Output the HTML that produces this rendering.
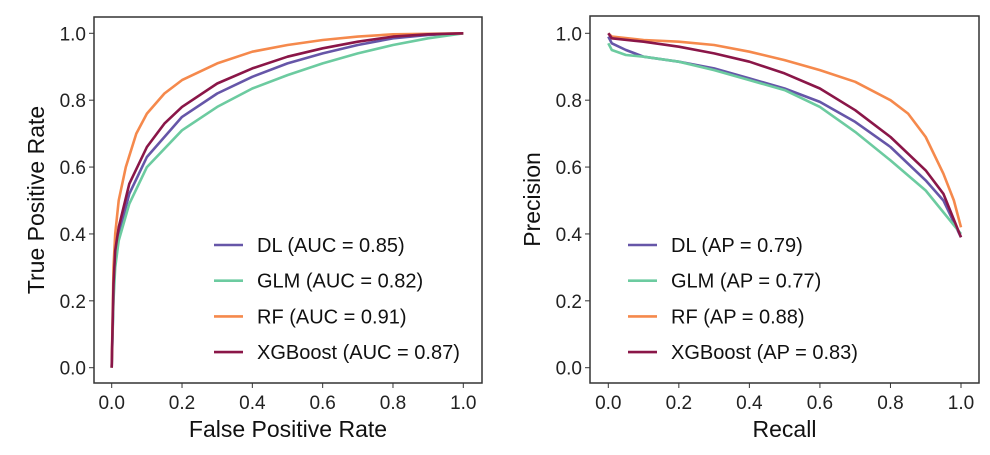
<!DOCTYPE html>
<html><head><meta charset="utf-8"><style>
body{margin:0;background:#fff}
svg{display:block;font-family:"Liberation Sans",sans-serif}
</style></head><body>
<svg id="c" width="990" height="455"></svg>
<script>
const ticks=[0,0.2,0.4,0.6,0.8,1.0];
const tickLabels=["0.0","0.2","0.4","0.6","0.8","1.0"];
const models=["DL","GLM","RF","XGBoost"];
const colors=["#6656a8","#6ccba0","#f5894c","#8a1648"];
const rocLabels=["DL (AUC = 0.85)","GLM (AUC = 0.82)","RF (AUC = 0.91)","XGBoost (AUC = 0.87)"];
const prLabels=["DL (AP = 0.79)","GLM (AP = 0.77)","RF (AP = 0.88)","XGBoost (AP = 0.83)"];
const rocDLx=[0,0.005,0.01,0.02,0.05,0.1,0.2,0.3,0.4,0.5,0.6,0.7,0.8,0.9,1];
const rocDLy=[0,0.22,0.32,0.4,0.52,0.63,0.75,0.82,0.87,0.91,0.94,0.965,0.985,0.995,1];
const rocGLMx=[0,0.005,0.01,0.02,0.05,0.1,0.2,0.3,0.4,0.5,0.6,0.7,0.8,0.9,1];
const rocGLMy=[0,0.2,0.3,0.38,0.49,0.6,0.71,0.78,0.835,0.875,0.91,0.94,0.965,0.985,1];
const rocRFx=[0,0.005,0.01,0.02,0.04,0.07,0.1,0.15,0.2,0.3,0.4,0.5,0.6,0.7,0.8,1];
const rocRFy=[0,0.3,0.4,0.5,0.6,0.7,0.76,0.82,0.86,0.91,0.945,0.965,0.98,0.99,0.997,1];
const rocXGBx=[0,0.005,0.01,0.02,0.05,0.1,0.15,0.2,0.3,0.4,0.5,0.6,0.7,0.8,0.9,1];
const rocXGBy=[0,0.25,0.35,0.42,0.55,0.66,0.73,0.78,0.85,0.895,0.93,0.955,0.975,0.99,0.997,1];
const prDLx=[0,0.01,0.05,0.1,0.2,0.3,0.4,0.5,0.6,0.7,0.8,0.9,0.95,1];
const prDLy=[0.99,0.97,0.95,0.93,0.915,0.895,0.865,0.835,0.795,0.735,0.66,0.56,0.5,0.39];
const prGLMx=[0,0.01,0.05,0.1,0.2,0.3,0.4,0.5,0.6,0.7,0.8,0.9,1];
const prGLMy=[0.97,0.95,0.935,0.93,0.915,0.89,0.86,0.83,0.78,0.705,0.62,0.53,0.4];
const prRFx=[0,0.01,0.1,0.2,0.3,0.4,0.5,0.6,0.7,0.8,0.85,0.9,0.95,0.98,1];
const prRFy=[1,0.99,0.98,0.975,0.965,0.945,0.92,0.89,0.855,0.8,0.76,0.69,0.58,0.5,0.42];
const prXGBx=[0,0.01,0.1,0.2,0.3,0.4,0.5,0.6,0.7,0.8,0.9,0.95,1];
const prXGBy=[1,0.985,0.975,0.96,0.94,0.915,0.88,0.835,0.77,0.69,0.59,0.52,0.39];

const svg=document.getElementById('c');
const NS='http://www.w3.org/2000/svg';
function mk(tag,attrs,parent){const e=document.createElementNS(NS,tag);for(const k in attrs)e.setAttribute(k,attrs[k]);(parent||svg).appendChild(e);return e;}
function panel(id,fx,fy,fw,fh,x0,x1,y0,y1,series,labels,xt,yt,ytx,legX){
  const g=mk('g',{});
  
  
  const sx=v=>x0+(x1-x0)*v, sy=v=>y0+(y1-y0)*v;
  const fr=mk('rect',{x:fx,y:fy,width:fw,height:fh,fill:'none',stroke:'#333','stroke-width':1.5},g);
  
  
  ticks.forEach((t,i)=>{
    mk('line',{x1:sx(t),x2:sx(t),y1:fy+fh,y2:fy+fh+5,stroke:'#333'},g);
    const tx=mk('text',{x:sx(t),y:fy+fh+26,'text-anchor':'middle','font-size':19,fill:'#222'},g);
    tx.textContent=tickLabels[i];
    
    
    mk('line',{x1:fx-5,x2:fx,y1:sy(t),y2:sy(t),stroke:'#333'},g);
    const ty=mk('text',{x:fx-8,y:sy(t)+7,'text-anchor':'end','font-size':19,fill:'#222'},g);
    ty.textContent=tickLabels[i];
    
    
  });
  const xl=mk('text',{x:(fx+fw/2),y:437,'text-anchor':'middle','font-size':23,fill:'#111'},g);
  xl.textContent=xt;
  
  
  const yl=mk('text',{x:0,y:0,'text-anchor':'middle','font-size':23,fill:'#111',transform:`translate(${ytx},${fy+fh/2}) rotate(-90)`},g);
  yl.textContent=yt;
  
  
  series.forEach((s,i)=>{
    const d=s[0].map((v,j)=>(j?'L':'M')+sx(v).toFixed(1)+','+sy(s[1][j]).toFixed(1)).join('');
    const p=mk('path',{d:d,fill:'none',stroke:colors[i],'stroke-width':2.6,'stroke-linejoin':'round'},g);
    
    
  });
  labels.forEach((l,i)=>{
    const y=245+i*35.7;
    const ln=mk('line',{x1:legX,x2:legX+29,y1:y,y2:y,stroke:colors[i],'stroke-width':2.6},g);
    
    
    const t=mk('text',{x:legX+43,y:y+7,'font-size':20,fill:'#111'},g);
    t.textContent=l;
    
    
  });
}
panel('roc-panel',94,17,388,366,111.7,463.3,367.7,33.3,
  [[rocDLx,rocDLy],[rocGLMx,rocGLMy],[rocRFx,rocRFy],[rocXGBx,rocXGBy]],
  rocLabels,'False Positive Rate','True Positive Rate',44,214);
panel('pr-panel',590,16,389,367,608.3,961,367.7,33.3,
  [[prDLx,prDLy],[prGLMx,prGLMy],[prRFx,prRFy],[prXGBx,prXGBy]],
  prLabels,'Recall','Precision',540,628);
</script>
</body></html>
